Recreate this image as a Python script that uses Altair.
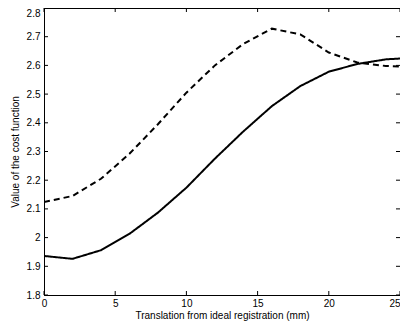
import altair as alt
import pandas as pd

# Data
x_vals = [0, 2, 4, 6, 8, 10, 12, 14, 16, 18, 20, 22, 24, 25]
solid_vals = [1.936, 1.926, 1.956, 2.013, 2.087, 2.174, 2.275, 2.370, 2.458, 2.528, 2.578, 2.605, 2.621, 2.624]
dashed_vals = [2.124, 2.145, 2.205, 2.292, 2.395, 2.505, 2.600, 2.675, 2.728, 2.708, 2.645, 2.610, 2.598, 2.596]

x_ticks = [0, 5, 10, 15, 20, 25]
y_ticks = [1.8, 1.9, 2.0, 2.1, 2.2, 2.3, 2.4, 2.5, 2.6, 2.7, 2.8]

W, H = 356, 287
FONT = "Liberation Sans"

df = pd.DataFrame({
    "x": x_vals * 2,
    "y": solid_vals + dashed_vals,
    "series": ["solid"] * len(x_vals) + ["dashed"] * len(x_vals),
})
xt = pd.DataFrame({"x": x_ticks})
yt = pd.DataFrame({"y": y_ticks})

xscale = alt.Scale(domain=[0, 25], nice=False, zero=False)
yscale = alt.Scale(domain=[1.8, 2.8], nice=False, zero=False)
xaxis = alt.Axis(values=x_ticks, format="d", title="Translation from ideal registration (mm)",
                 labelPadding=3, titlePadding=2, labelFlush=False,
                 labelAlign=alt.condition("datum.value >= 24.9", alt.value("right"), alt.value("center")))
yaxis = alt.Axis(values=y_ticks, format="~g", title="Value of the cost function",
                 labelPadding=4, titlePadding=6,
                 labelBaseline=alt.condition("datum.value >= 2.79", alt.value("top"), alt.value("middle")))

lines = alt.Chart(df).mark_line(color="black", strokeWidth=2, clip=True).encode(
    x=alt.X("x:Q", scale=xscale, axis=xaxis),
    y=alt.Y("y:Q", scale=yscale, axis=yaxis),
    strokeDash=alt.StrokeDash("series:N",
                              scale=alt.Scale(domain=["solid", "dashed"], range=[[1, 0], [6, 4]]),
                              legend=None),
    detail="series:N",
)

tick_len = 4
bottom_ticks = alt.Chart(xt).mark_rule(color="black", strokeWidth=1).encode(
    x=alt.X("x:Q", scale=xscale, axis=xaxis), y=alt.value(H), y2=alt.value(H - tick_len))
top_ticks = alt.Chart(xt).mark_rule(color="black", strokeWidth=1).encode(
    x=alt.X("x:Q", scale=xscale, axis=xaxis), y=alt.value(0), y2=alt.value(tick_len))
left_ticks = alt.Chart(yt).mark_rule(color="black", strokeWidth=1).encode(
    y=alt.Y("y:Q", scale=yscale, axis=yaxis), x=alt.value(0), x2=alt.value(tick_len))
right_ticks = alt.Chart(yt).mark_rule(color="black", strokeWidth=1).encode(
    y=alt.Y("y:Q", scale=yscale, axis=yaxis), x=alt.value(W), x2=alt.value(W - tick_len))

chart = alt.layer(lines, bottom_ticks, top_ticks, left_ticks, right_ticks).properties(
    width=W, height=H,
    autosize=alt.AutoSizeParams(type="none"),
    padding={"left": 36, "top": 0, "right": 0, "bottom": 28},
).configure_view(
    stroke="black", strokeWidth=1
).configure_axis(
    grid=False, ticks=False, tickSize=0,
    domainColor="black", domainWidth=1,
    labelFont=FONT, labelFontSize=10, labelColor="black",
    titleFont=FONT, titleFontSize=10, titleFontWeight="normal", titleColor="black",
)

chart.save("out.html", embed_options={"renderer": "svg", "actions": False})
